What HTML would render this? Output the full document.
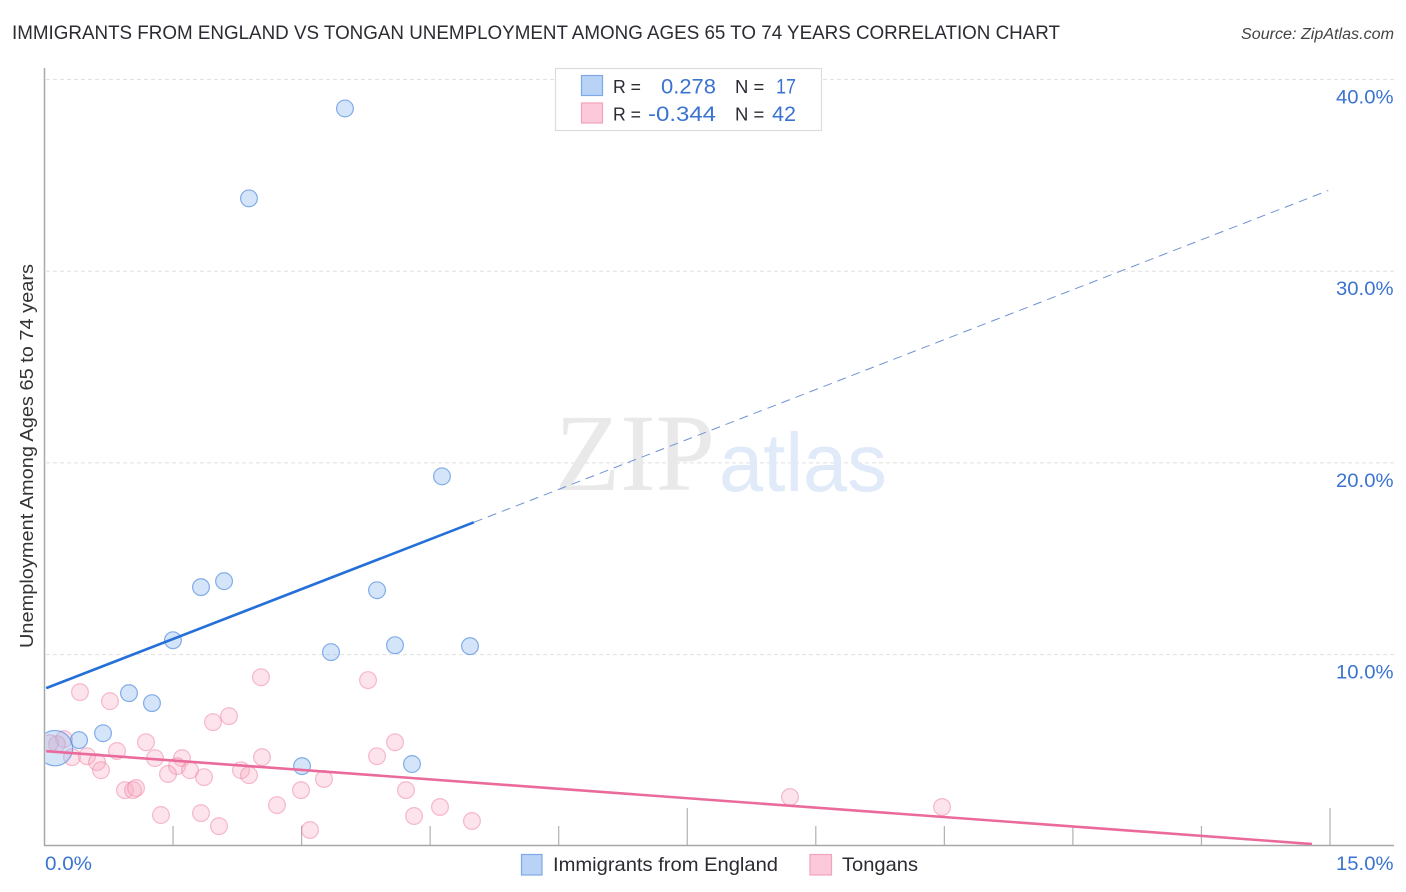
<!DOCTYPE html>
<html lang="en">
<head>
<meta charset="utf-8">
<title>Immigrants from England vs Tongan Unemployment Correlation Chart</title>
<style>
html,body{margin:0;padding:0;background:#fff;width:1406px;height:892px;overflow:hidden}
svg{display:block}
text{font-family:"Liberation Sans",sans-serif}
</style>
</head>
<body>
<svg id="chart" width="1406" height="892" viewBox="0 0 1406 892" xmlns="http://www.w3.org/2000/svg">
  <defs><clipPath id="plot-clip"><rect x="45.5" y="60" width="1350" height="785"/></clipPath></defs>
  <text x="12" y="39" font-size="19.5" fill="#2b2b33" textLength="1048" lengthAdjust="spacingAndGlyphs">IMMIGRANTS FROM ENGLAND VS TONGAN UNEMPLOYMENT AMONG AGES 65 TO 74 YEARS CORRELATION CHART</text>
  <text x="1241" y="39" font-size="15.5" font-style="italic" fill="#444" textLength="153" lengthAdjust="spacingAndGlyphs">Source: ZipAtlas.com</text>

  <g id="grid"></g>

  <g>
    <text x="555" y="490" font-size="110" fill="#e9e9e9" style="font-family:'Liberation Serif',serif" textLength="160" lengthAdjust="spacingAndGlyphs">ZIP</text>
    <text x="719" y="491" font-size="83" fill="#e0eaf9" textLength="168" lengthAdjust="spacingAndGlyphs">atlas</text>
  </g>

  <g id="axes"></g>
  <g id="points" clip-path="url(#plot-clip)"></g>
  <g id="trends" clip-path="url(#plot-clip)"></g>
  <g id="ticklabels"></g>

  <text transform="translate(33,456) rotate(-90)" font-size="18.5" fill="#333" text-anchor="middle" textLength="384" lengthAdjust="spacingAndGlyphs">Unemployment Among Ages 65 to 74 years</text>

  <g>
    <rect x="555.5" y="68.5" width="266" height="62" fill="#fff" stroke="#dcdcdc" stroke-width="1.2"/>
    <rect x="581.5" y="75.5" width="21" height="20" fill="#b9d3f6" stroke="#7ea9e4" stroke-width="1.2"/>
    <rect x="581.5" y="103" width="21" height="20" fill="#fbc9d9" stroke="#f3a3bb" stroke-width="1.2"/>
    <text x="613" y="93" font-size="18.5" fill="#2b2b33" textLength="28" lengthAdjust="spacingAndGlyphs">R =</text>
    <text x="661" y="93.5" font-size="21" fill="#3a73d0" textLength="55" lengthAdjust="spacingAndGlyphs">0.278</text>
    <text x="735" y="93" font-size="18.5" fill="#2b2b33">N =</text>
    <text x="776" y="93.5" font-size="21" fill="#3a73d0" textLength="20" lengthAdjust="spacingAndGlyphs">17</text>
    <text x="613" y="120.5" font-size="18.5" fill="#2b2b33" textLength="28" lengthAdjust="spacingAndGlyphs">R =</text>
    <text x="648" y="121" font-size="21" fill="#3a73d0" textLength="68" lengthAdjust="spacingAndGlyphs">-0.344</text>
    <text x="735" y="120.5" font-size="18.5" fill="#2b2b33">N =</text>
    <text x="772" y="121" font-size="21" fill="#3a73d0" textLength="24" lengthAdjust="spacingAndGlyphs">42</text>
  </g>

  <g>
    <rect x="521.5" y="854.5" width="20.5" height="20.5" fill="#b9d3f6" stroke="#7ea9e4" stroke-width="1.2"/>
    <text x="553" y="871" font-size="19.5" fill="#2b2b33" textLength="225" lengthAdjust="spacingAndGlyphs">Immigrants from England</text>
    <rect x="810" y="854.5" width="21.5" height="20.5" fill="#fbc9d9" stroke="#f3a3bb" stroke-width="1.2"/>
    <text x="842" y="871" font-size="19.5" fill="#2b2b33" textLength="76" lengthAdjust="spacingAndGlyphs">Tongans</text>
  </g>
</svg>
<script>
// Data (percent units)
const englandX = [3.506,2.386,4.638,2.095,1.826,3.880,1.499,3.343,4.090,4.965,0.986,1.254,0.683,0.403,0.123,3.005,4.288];
const englandY = [38.49,33.80,19.30,13.83,13.52,13.36,10.75,10.13,10.49,10.44,7.99,7.47,5.90,5.54,5.12,4.18,4.29];
const englandSize = [1,1,1,1,1,1,1,1,1,1,1,1,1,1,2.1,1,1];
const tongansX = [0.414,0.764,2.526,3.775,2.153,1.966,0.228,0.146,0.064,0.321,0.496,0.613,0.659,0.846,1.184,1.289,1.604,1.546,1.698,1.441,1.861,2.293,2.386,2.538,4.090,3.880,3.261,2.993,4.218,2.713,0.939,1.033,1.068,1.359,1.826,2.036,3.098,4.312,4.615,4.988,8.699,10.473];
const tongansY = [8.04,7.57,8.82,8.67,6.79,6.48,5.59,5.33,5.38,4.65,4.70,4.39,3.97,4.97,5.43,4.60,4.60,4.18,3.97,3.77,3.61,3.97,3.71,4.65,5.43,4.70,3.51,2.93,2.93,2.15,2.93,2.93,3.04,1.63,1.73,1.05,0.85,1.58,2.05,1.32,2.57,2.05];
const englandTrendX = [0.02,5.01,14.98];
const englandTrendY = [8.25,16.90,34.21];
const tongansTrendX = [0.02,14.79];
const tongansTrendY = [4.96,0.12];
const yTicks = [10,20,30,40];
const yTickLabels = ['10.0%','20.0%','30.0%','40.0%'];
const xTickValues = [1.5,3,4.5,6,7.5,9,10.5,12,13.5,15];
const xTickMajor = [0,0,0,0,1,0,0,0,0,1];
const xEndLabels = ['0.0%','15.0%'];

const NS = 'http://www.w3.org/2000/svg';
const xScale = v => 44.5 + v * 85.7;
const yScale = v => 846.3 - v * 19.17;
function make(tag, parent, attrs) {
  const el = document.createElementNS(NS, tag);
  for (const k in attrs) el.setAttribute(k, attrs[k]);
  parent.appendChild(el);
  return el;
}

const grid = document.getElementById('grid');
yTicks.forEach(t => {
  const el = make('line', grid, {x1: 46, x2: 1394, y1: yScale(t), y2: yScale(t), stroke: '#e0e0e0', 'stroke-width': 1, 'stroke-dasharray': '4 3'});
  
  
});

const axes = document.getElementById('axes');
const yAxis = make('line', axes, {x1: 44.5, x2: 44.5, y1: 68, y2: 846, stroke: '#a8a8a8', 'stroke-width': 1.5});


const xAxis = make('line', axes, {x1: 44, x2: 1394, y1: 845.5, y2: 845.5, stroke: '#a8a8a8', 'stroke-width': 1.5});


xTickValues.forEach((t, i) => {
  const el = make('line', axes, {x1: xScale(t), x2: xScale(t), y1: xTickMajor[i] ? 808 : 826, y2: 845, stroke: '#b0b0b0', 'stroke-width': 1.2});
  
  
});

const points = document.getElementById('points');
tongansX.forEach((x, i) => {
  const c = make('circle', points, {cx: xScale(x), cy: yScale(tongansY[i]), r: 8.4, fill: '#f9a9c3', 'fill-opacity': 0.33, stroke: '#ee88a8', 'stroke-opacity': 0.55, 'stroke-width': 1.2});
  
  
});
englandX.forEach((x, i) => {
  const c = make('circle', points, {cx: xScale(x), cy: yScale(englandY[i]), r: 8.4 * englandSize[i], fill: '#94bdf0', 'fill-opacity': 0.4, stroke: '#4f8ade', 'stroke-opacity': 0.68, 'stroke-width': 1.2});
  
  
});

const trends = document.getElementById('trends');
const blueSolid = make('line', trends, {x1: xScale(englandTrendX[0]), y1: yScale(englandTrendY[0]), x2: xScale(englandTrendX[1]), y2: yScale(englandTrendY[1]), stroke: '#2570d8', 'stroke-width': 2.6});


const blueDash = make('line', trends, {x1: xScale(englandTrendX[1]), y1: yScale(englandTrendY[1]), x2: xScale(englandTrendX[2]), y2: yScale(englandTrendY[2]), stroke: '#6f93d2', 'stroke-width': 1, 'stroke-dasharray': '9 6'});


const pinkLine = make('line', trends, {x1: xScale(tongansTrendX[0]), y1: yScale(tongansTrendY[0]), x2: xScale(tongansTrendX[1]), y2: yScale(tongansTrendY[1]), stroke: '#ea6b9b', 'stroke-width': 2.6});



const labels = document.getElementById('ticklabels');
yTicks.forEach((t, i) => {
  const el = make('text', labels, {x: 1336, y: yScale(t) + 24, 'font-size': 19.5, fill: '#3a73d0', textLength: 57.5, lengthAdjust: 'spacingAndGlyphs'});
  el.textContent = yTickLabels[i];
  
  
});
const x0 = make('text', labels, {x: 45, y: 870, 'font-size': 19.5, fill: '#3a73d0', textLength: 47, lengthAdjust: 'spacingAndGlyphs'});
x0.textContent = xEndLabels[0];


const x1 = make('text', labels, {x: 1336, y: 870, 'font-size': 19.5, fill: '#3a73d0', textLength: 57.5, lengthAdjust: 'spacingAndGlyphs'});
x1.textContent = xEndLabels[1];


</script>
</body>
</html>
